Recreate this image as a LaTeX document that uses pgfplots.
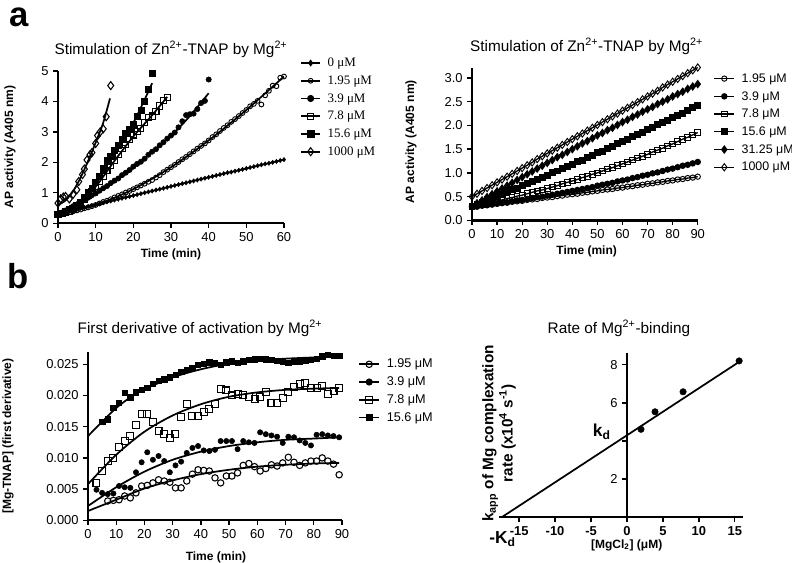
\documentclass[border=0pt]{standalone}
\usepackage{pgfplots}
\pgfplotsset{compat=1.18}
\usepackage{fontspec}
\setmainfont{Liberation Sans}
\newfontfamily\seriffont{Liberation Serif}

\pgfplotsset{
 gp/.style={
  scale only axis, clip=false,
  axis x line*=bottom, axis y line*=left,
  axis line style={line width=1.3pt},
  tick align=outside, major tick length=3.5pt,
  every tick/.style={line width=1pt, black},
  /pgf/number format/assume math mode=true,
  tick label style={font=\fontsize{9.7}{10}\selectfont},
  every axis title/.style={font=\fontsize{11.5}{12}\selectfont, anchor=center},
  every axis x label/.style={font=\bfseries\fontsize{9}{10}\selectfont, anchor=center},
  every axis y label/.style={font=\bfseries\fontsize{9}{10}\selectfont, anchor=center, rotate=90},
  legend style={draw=none, fill=none, inner sep=0pt, row sep=2.8pt, anchor=north west,
    font=\fontsize{9.5}{10}\selectfont,
    nodes={inner sep=0.5pt, text height=7.5pt, text depth=2pt},
    /tikz/every odd column/.style={column sep=4.5pt}},
  legend cell align=left,
  legend image code/.code={\draw[mark repeat=2,mark phase=2,##1] plot coordinates {(0cm,0cm)(0.25cm,0cm)(0.5cm,0cm)};},
 },
 fitl/.style={no marks, smooth, line width=1.3pt, black, forget plot},
}

\begin{document}
\begin{tikzpicture}
\path[use as bounding box] (0,0) rectangle (594pt,422.25pt);
\node[inner sep=0pt, font=\bfseries\fontsize{26}{26}\selectfont] at (14.3pt,409.5pt) {a};
\node[inner sep=0pt, font=\bfseries\fontsize{26}{26}\selectfont] at (13.9pt,214.9pt) {b};

%================ Panel 1 =================
\begin{axis}[gp, at={(43.5pt,254.8pt)}, anchor=south west,
  width=169.5pt, height=114.2pt,
  xmin=0, xmax=60, ymin=0, ymax=5,
  xtick={0,10,...,60}, ytick={0,1,...,5},
  title={Stimulation of Zn\textsuperscript{2+}-TNAP by Mg\textsuperscript{2+}},
  title style={at={(axis description cs:0.5,1.144)}},
  xlabel={Time (min)}, xlabel style={at={(axis description cs:0.5,-0.2016)}},
  ylabel={AP activity (A405 nm)}, ylabel style={at={(axis description cs:-0.212,0.5)}},
  legend style={at={(axis description cs:1.071,1.100)}, font=\seriffont\fontsize{9.7}{10}\selectfont},
]
% 0 uM
\addplot[only marks, mark=diamond*, mark size=1.6pt, black, forget plot] coordinates {
(0,0.30)(1,0.33)(2,0.36)(3,0.39)(4,0.42)(5,0.45)(6,0.49)(7,0.52)(8,0.55)(9,0.58)(10,0.61)
(11,0.64)(12,0.67)(13,0.70)(14,0.73)(15,0.76)(16,0.79)(17,0.82)(18,0.85)(19,0.88)(20,0.91)
(21,0.94)(22,0.97)(23,1.00)(24,1.03)(25,1.06)(26,1.09)(27,1.12)(28,1.15)(29,1.18)(30,1.21)
(31,1.24)(32,1.27)(33,1.30)(34,1.33)(35,1.36)(36,1.39)(37,1.42)(38,1.45)(39,1.48)(40,1.51)
(41,1.54)(42,1.57)(43,1.60)(44,1.63)(45,1.66)(46,1.68)(47,1.71)(48,1.74)(49,1.77)(50,1.80)
(51,1.83)(52,1.86)(53,1.89)(54,1.92)(55,1.95)(56,1.97)(57,2.00)(58,2.03)(59,2.06)(60,2.09)};
\addplot[fitl] coordinates {(0,0.30)(10,0.61)(20,0.91)(30,1.21)(40,1.51)(50,1.80)(60,2.09)};
% 1.95 uM
\addplot[only marks, mark=o, mark size=1.8pt, line width=0.7pt, black, forget plot] coordinates {
(0,0.30)(1,0.32)(2,0.34)(3,0.36)(4,0.39)(5,0.42)(6,0.45)(7,0.49)(8,0.52)(9,0.56)(10,0.60)
(11,0.65)(12,0.70)(13,0.74)(14,0.79)(15,0.85)(16,0.90)(17,0.95)(18,1.01)(19,1.06)(20,1.12)
(21,1.18)(22,1.24)(23,1.30)(24,1.36)(25,1.42)(26,1.50)(27,1.58)(28,1.68)(29,1.76)(30,1.84)
(31,1.92)(32,2.01)(33,2.10)(34,2.18)(35,2.27)(36,2.36)(37,2.45)(38,2.54)(39,2.62)(40,2.72)
(41,2.83)(42,2.92)(43,3.03)(44,3.13)(45,3.22)(46,3.33)(47,3.42)(48,3.52)(49,3.62)(50,3.72)
(51,3.84)(52,3.92)(53,4.02)(54,3.90)(55,4.20)(56,4.35)(57,4.52)(58,4.50)(59,4.78)(60,4.82)};
\addplot[fitl] coordinates {(0,0.30)(10,0.60)(20,1.12)(30,1.84)(40,2.72)(50,3.72)(60,4.82)};
% 3.9 uM
\addplot[only marks, mark=*, mark size=2.0pt, black, forget plot] coordinates {
(0,0.30)(1,0.35)(2,0.42)(3,0.48)(4,0.56)(5,0.62)(6,0.70)(7,0.76)(8,0.84)(9,0.92)(10,0.98)
(11,1.07)(12,1.15)(13,1.22)(14,1.32)(15,1.40)(16,1.47)(17,1.58)(18,1.66)(19,1.75)(20,1.86)
(21,1.95)(22,2.02)(23,2.12)(24,2.25)(25,2.35)(26,2.43)(27,2.56)(28,2.66)(29,2.78)(30,2.88)
(31,2.98)(32,3.15)(33,3.35)(34,3.55)(35,3.58)(36,3.60)(37,3.75)(38,3.95)(39,4.02)(40,4.72)};
\addplot[fitl] coordinates {(0,0.30)(10,0.95)(20,1.82)(30,2.88)(35,3.52)(40,4.27)};
% 7.8 uM
\addplot[only marks, mark=square, mark size=2.3pt, line width=0.8pt, black, forget plot] coordinates {
(0,0.30)(1,0.33)(2,0.36)(3,0.40)(4,0.47)(5,0.55)(6,0.66)(7,0.78)(8,0.90)(9,1.04)(10,1.20)
(11,1.37)(12,1.55)(13,1.72)(14,1.90)(15,2.05)(16,2.25)(17,2.46)(18,2.58)(19,2.74)(20,2.90)
(21,3.02)(22,3.12)(23,3.30)(24,3.47)(25,3.52)(26,3.68)(27,3.85)(28,4.02)(29,4.12)};
\addplot[fitl] coordinates {(0,0.30)(5,0.55)(10,1.20)(15,2.05)(20,2.85)(25,3.55)(29,4.15)};
% 15.6 uM
\addplot[only marks, mark=square*, mark size=2.3pt, black, forget plot] coordinates {
(0,0.30)(1,0.33)(2,0.38)(3,0.45)(4,0.50)(5,0.60)(6,0.70)(7,0.85)(8,1.00)(9,1.15)(10,1.35)
(11,1.55)(12,1.80)(13,2.05)(14,2.20)(15,2.40)(16,2.55)(17,2.75)(18,2.95)(19,3.10)(20,3.25)
(21,3.50)(22,3.70)(23,4.00)(24,4.40)(25,4.92)};
\addplot[fitl] coordinates {(0,0.30)(5,0.60)(10,1.35)(15,2.35)(20,3.30)(25,4.60)};
% 1000 uM
\addplot[only marks, mark=diamond, mark size=3.0pt, line width=0.8pt, black, forget plot] coordinates {
(0,0.66)(0.7,0.80)(1.4,0.86)(2,0.88)(3,0.80)(4,0.95)(5,1.10)(5.5,1.37)(6.5,1.60)(7,1.78)
(7.7,2.08)(8.5,2.25)(9,2.32)(10,2.62)(10.5,2.88)(11.2,3.00)(12,3.10)(12.8,3.50)(14,4.52)};
\addplot[fitl] coordinates {(0,0.60)(2,0.75)(4,1.05)(6,1.50)(8,2.05)(10,2.65)(12,3.30)(13.8,4.10)};
\addlegendimage{black, line width=1.3pt, mark=diamond*, mark size=1.6pt}
\addlegendentry{0 μM}
\addlegendimage{black, line width=1.3pt, mark=o, mark size=1.8pt, mark options={line width=0.7pt}}
\addlegendentry{1.95 μM}
\addlegendimage{black, line width=1.3pt, mark=*, mark size=2.0pt}
\addlegendentry{3.9 μM}
\addlegendimage{black, line width=1.3pt, mark=square, mark size=2.3pt, mark options={line width=0.8pt}}
\addlegendentry{7.8 μM}
\addlegendimage{black, line width=1.3pt, mark=square*, mark size=2.3pt}
\addlegendentry{15.6 μM}
\addlegendimage{black, line width=1.3pt, mark=diamond, mark size=3.0pt, mark options={line width=0.8pt}}
\addlegendentry{1000 μM}
\end{axis}

%================ Panel 2 =================
\begin{axis}[gp, at={(354pt,257.0pt)}, anchor=south west,
  width=169.3pt, height=113.9pt,
  xmin=0, xmax=90, ymin=0, ymax=3.2,
  xtick={0,10,...,90}, ytick={0,0.5,1.0,1.5,2.0,2.5,3.0},
  yticklabel style={/pgf/number format/.cd, fixed, fixed zerofill, precision=1},
  title={Stimulation of Zn\textsuperscript{2+}-TNAP by Mg\textsuperscript{2+}},
  title style={at={(axis description cs:0.508,1.148)}},
  xlabel={Time (min)}, xlabel style={at={(axis description cs:0.508,-0.2075)}},
  ylabel={AP activity (A405 nm)}, ylabel style={at={(axis description cs:-0.270,0.518)}},
  legend style={at={(axis description cs:1.069,0.981)}, font=\fontsize{9.3}{10}\selectfont},
  legend image code/.code={\draw[mark repeat=2,mark phase=2,#1] plot coordinates {(0cm,0cm)(0.265cm,0cm)(0.53cm,0cm)};},
]
\addplot[line width=1.8pt, black, forget plot] coordinates {(0,0)(90,0)};
\addplot[black, line width=1pt, mark=o, mark size=2.0pt, mark options={line width=0.7pt}] coordinates {
(0,0.28)(2,0.29)(4,0.31)(6,0.32)(8,0.33)(10,0.35)(12,0.36)(14,0.37)(16,0.39)(18,0.40)(20,0.41)
(22,0.43)(24,0.44)(26,0.45)(28,0.47)(30,0.48)(32,0.49)(34,0.51)(36,0.52)(38,0.54)(40,0.55)
(42,0.56)(44,0.58)(46,0.59)(48,0.61)(50,0.62)(52,0.64)(54,0.65)(56,0.66)(58,0.68)(60,0.69)
(62,0.71)(64,0.72)(66,0.74)(68,0.75)(70,0.77)(72,0.78)(74,0.80)(76,0.81)(78,0.83)(80,0.84)
(82,0.86)(84,0.87)(86,0.89)(88,0.90)(90,0.92)};
\addlegendentry{1.95 μM}
\addplot[black, line width=1pt, mark=*, mark size=1.9pt] coordinates {
(0,0.28)(2,0.29)(4,0.31)(6,0.32)(8,0.34)(10,0.35)(12,0.37)(14,0.38)(16,0.40)(18,0.42)(20,0.43)
(22,0.45)(24,0.47)(26,0.49)(28,0.50)(30,0.52)(32,0.54)(34,0.56)(36,0.58)(38,0.60)(40,0.62)
(42,0.64)(44,0.66)(46,0.68)(48,0.70)(50,0.73)(52,0.75)(54,0.77)(56,0.79)(58,0.82)(60,0.84)
(62,0.86)(64,0.89)(66,0.91)(68,0.94)(70,0.96)(72,0.99)(74,1.01)(76,1.04)(78,1.07)(80,1.09)
(82,1.12)(84,1.15)(86,1.17)(88,1.20)(90,1.23)};
\addlegendentry{3.9 μM}
\addplot[black, line width=1pt, mark=square, mark size=2.1pt, mark options={line width=0.7pt}] coordinates {
(0,0.30)(2,0.32)(4,0.34)(6,0.36)(8,0.39)(10,0.41)(12,0.43)(14,0.46)(16,0.48)(18,0.51)(20,0.53)
(22,0.56)(24,0.59)(26,0.62)(28,0.64)(30,0.67)(32,0.70)(34,0.73)(36,0.77)(38,0.80)(40,0.83)
(42,0.86)(44,0.90)(46,0.93)(48,0.97)(50,1.00)(52,1.04)(54,1.08)(56,1.11)(58,1.15)(60,1.19)
(62,1.23)(64,1.27)(66,1.31)(68,1.35)(70,1.39)(72,1.44)(74,1.48)(76,1.52)(78,1.57)(80,1.61)
(82,1.66)(84,1.71)(86,1.75)(88,1.80)(90,1.85)};
\addlegendentry{7.8 μM}
\addplot[black, line width=1pt, mark=square*, mark size=2.1pt] coordinates {
(0,0.30)(2,0.34)(4,0.38)(6,0.43)(8,0.47)(10,0.51)(12,0.55)(14,0.60)(16,0.64)(18,0.68)(20,0.73)
(22,0.77)(24,0.82)(26,0.86)(28,0.91)(30,0.95)(32,1.00)(34,1.04)(36,1.09)(38,1.13)(40,1.18)
(42,1.23)(44,1.27)(46,1.32)(48,1.37)(50,1.42)(52,1.46)(54,1.51)(56,1.56)(58,1.61)(60,1.66)
(62,1.71)(64,1.76)(66,1.81)(68,1.86)(70,1.91)(72,1.96)(74,2.01)(76,2.06)(78,2.11)(80,2.16)
(82,2.21)(84,2.26)(86,2.31)(88,2.37)(90,2.42)};
\addlegendentry{15.6 μM}
\addplot[black, line width=1pt, mark=diamond*, mark size=2.5pt] coordinates {
(0,0.30)(2,0.36)(4,0.42)(6,0.49)(8,0.55)(10,0.61)(12,0.67)(14,0.73)(16,0.79)(18,0.85)(20,0.91)
(22,0.97)(24,1.03)(26,1.09)(28,1.15)(30,1.21)(32,1.27)(34,1.33)(36,1.38)(38,1.44)(40,1.50)
(42,1.56)(44,1.62)(46,1.67)(48,1.73)(50,1.79)(52,1.84)(54,1.90)(56,1.95)(58,2.01)(60,2.07)
(62,2.12)(64,2.18)(66,2.23)(68,2.29)(70,2.34)(72,2.39)(74,2.45)(76,2.50)(78,2.55)(80,2.61)
(82,2.66)(84,2.71)(86,2.77)(88,2.82)(90,2.87)};
\addlegendentry{31.25 μM}
\addplot[black, line width=1pt, mark=diamond, mark size=2.7pt, mark options={line width=0.7pt}] coordinates {
(0,0.50)(2,0.56)(4,0.62)(6,0.68)(8,0.74)(10,0.80)(12,0.86)(14,0.92)(16,0.98)(18,1.04)(20,1.10)
(22,1.16)(24,1.22)(26,1.29)(28,1.35)(30,1.41)(32,1.47)(34,1.53)(36,1.59)(38,1.65)(40,1.71)
(42,1.77)(44,1.83)(46,1.89)(48,1.95)(50,2.01)(52,2.07)(54,2.13)(56,2.19)(58,2.25)(60,2.31)
(62,2.37)(64,2.43)(66,2.49)(68,2.55)(70,2.61)(72,2.67)(74,2.73)(76,2.80)(78,2.86)(80,2.92)
(82,2.98)(84,3.04)(86,3.10)(88,3.16)(90,3.22)};
\addlegendentry{1000 μM}
\end{axis}

%================ Panel 3 =================
\begin{axis}[gp, at={(66pt,32.0pt)}, anchor=south west,
  width=190.5pt, height=126.4pt,
  xmin=0, xmax=90, ymin=0, ymax=0.027,
  xtick={0,10,...,90}, ytick={0,0.005,0.010,0.015,0.020,0.025},
  yticklabel style={/pgf/number format/.cd, fixed, fixed zerofill, precision=3},
  scaled y ticks=false,
  title={First derivative of activation by Mg\textsuperscript{2+}},
  title style={at={(axis description cs:0.441,1.138)}},
  xlabel={Time (min)}, xlabel style={at={(axis description cs:0.504,-0.218)}},
  ylabel={[Mg-TNAP] (first derivative)}, ylabel style={at={(axis description cs:-0.315,0.5)}},
  legend style={at={(axis description cs:1.063,0.969)}},
  legend image code/.code={\draw[mark repeat=2,mark phase=2,#1] plot coordinates {(0cm,0cm)(0.265cm,0cm)(0.53cm,0cm)};},
]
% 1.95
\addplot[only marks, mark=o, mark size=2.4pt, line width=0.8pt, black, forget plot] coordinates {
(7,0.0031)(9,0.0032)(11,0.0033)(13,0.0039)(15,0.0036)(17,0.0044)(19,0.0055)(21,0.0056)(23,0.0060)
(25,0.0065)(27,0.0063)(29,0.0061)(31,0.0052)(33,0.0052)(35,0.0063)(37,0.0074)(39,0.0081)(41,0.0080)
(43,0.0079)(45,0.0068)(47,0.0060)(49,0.0071)(51,0.0071)(53,0.0076)(55,0.0088)(57,0.0091)(59,0.0086)
(61,0.0079)(63,0.0083)(65,0.0089)(67,0.0087)(69,0.0092)(71,0.0101)(73,0.0093)(75,0.0088)(77,0.0092)
(79,0.0095)(81,0.0095)(83,0.0100)(85,0.0095)(87,0.0090)(89,0.0073)};
\addplot[fitl] coordinates {(0,0.0015)(10,0.0033)(20,0.0051)(30,0.0064)(40,0.0074)(50,0.0081)(60,0.0086)(70,0.0089)(80,0.0091)(89,0.0092)};
% 3.9
\addplot[only marks, mark=*, mark size=2.0pt, black, forget plot] coordinates {
(3,0.0049)(5,0.0044)(7,0.0042)(9,0.0043)(11,0.0055)(13,0.0053)(15,0.0052)(17,0.0077)(19,0.0093)
(21,0.0109)(23,0.0097)(25,0.0103)(27,0.0095)(29,0.0077)(31,0.0088)(33,0.0094)(35,0.0108)(37,0.0116)
(39,0.0119)(41,0.0112)(43,0.0111)(45,0.0113)(47,0.0127)(49,0.0127)(51,0.0127)(53,0.0114)(55,0.0127)
(57,0.0125)(59,0.0124)(61,0.0141)(63,0.0138)(65,0.0136)(67,0.0134)(69,0.0124)(71,0.0134)(73,0.0133)
(75,0.0128)(77,0.0124)(79,0.0120)(81,0.0137)(83,0.0138)(85,0.0136)(87,0.0135)(89,0.0133)};
\addplot[fitl] coordinates {(0,0.0023)(10,0.0053)(20,0.0078)(30,0.0097)(40,0.0110)(50,0.0119)(60,0.0125)(70,0.0129)(80,0.0131)(89,0.0133)};
% 7.8
\addplot[only marks, mark=square, mark size=2.6pt, line width=0.8pt, black, forget plot] coordinates {
(3,0.0060)(5,0.0079)(7,0.0095)(9,0.0100)(11,0.0117)(13,0.0127)(15,0.0135)(17,0.0153)(19,0.0170)
(21,0.0170)(23,0.0157)(25,0.0143)(27,0.0139)(29,0.0132)(31,0.0139)(33,0.0166)(35,0.0187)(37,0.0167)
(39,0.0167)(41,0.0173)(43,0.0178)(45,0.0186)(47,0.0211)(49,0.0208)(51,0.0200)(53,0.0202)(55,0.0201)
(57,0.0197)(59,0.0195)(61,0.0197)(63,0.0205)(65,0.0188)(67,0.0188)(69,0.0196)(71,0.0205)(73,0.0213)
(75,0.0219)(77,0.0220)(79,0.0212)(81,0.0212)(83,0.0215)(85,0.0202)(87,0.0207)(89,0.0212)};
\addplot[fitl] coordinates {(0,0.0058)(10,0.0105)(20,0.0142)(30,0.0168)(40,0.0186)(50,0.0198)(60,0.0205)(70,0.0209)(80,0.0211)(89,0.0212)};
% 15.6
\addplot[only marks, mark=square*, mark size=2.0pt, black, forget plot] coordinates {
(5,0.0158)(7,0.0162)(9,0.0180)(11,0.0188)(13,0.0204)(15,0.0197)(17,0.0205)(19,0.0209)(21,0.0212)
(23,0.0219)(25,0.0224)(27,0.0226)(29,0.0229)(31,0.0233)(33,0.0238)(35,0.0241)(37,0.0244)(39,0.0249)
(41,0.0251)(43,0.0253)(45,0.0252)(47,0.0249)(49,0.0253)(51,0.0255)(53,0.0252)(55,0.0255)(57,0.0257)
(59,0.0258)(61,0.0259)(63,0.0258)(65,0.0257)(67,0.0256)(69,0.0254)(71,0.0252)(73,0.0254)(75,0.0255)
(77,0.0256)(79,0.0257)(81,0.0259)(83,0.0263)(85,0.0265)(87,0.0264)(89,0.0264)};
\addplot[fitl] coordinates {(0,0.0135)(5,0.0158)(10,0.0180)(15,0.0197)(20,0.0210)(30,0.0229)(40,0.0242)(50,0.0251)(60,0.0256)(70,0.0259)(80,0.0261)(89,0.0263)};
\addlegendimage{black, line width=1.3pt, mark=o, mark size=2.4pt, mark options={line width=0.8pt}}
\addlegendentry{1.95 μM}
\addlegendimage{black, line width=1.3pt, mark=*, mark size=2.0pt}
\addlegendentry{3.9 μM}
\addlegendimage{black, line width=1.3pt, mark=square, mark size=2.6pt, mark options={line width=0.8pt}}
\addlegendentry{7.8 μM}
\addlegendimage{black, line width=1.3pt, mark=square*, mark size=2.0pt}
\addlegendentry{15.6 μM}
\end{axis}

%================ Panel 4 =================
\begin{axis}[gp, at={(374.25pt,34.4pt)}, anchor=south west,
  width=182.8pt, height=123.3pt,
  axis y line*=center, hide obscured x ticks=false,
  xmin=-17.8, xmax=16.1, ymin=0, ymax=8.63,
  xtick={-15,-10,-5,0,5,10,15}, ytick={2,4,6,8}, yticklabels={2,{},6,8},
  xticklabel style={font=\bfseries\fontsize{9.7}{10}\selectfont},
  title={Rate of Mg\textsuperscript{2+}-binding},
  title style={at={(axis description cs:0.492,1.150)}},
  xlabel={[MgCl\textsubscript{2}] (μM)}, xlabel style={at={(axis description cs:0.524,-0.170)}},
]
\addplot[no marks, line width=1.3pt, black] coordinates {(-17.4,0)(15.6,8.15)};
\addplot[only marks, mark=*, mark size=2.4pt, black] coordinates {(1.95,4.61)(3.9,5.53)(7.8,6.58)(15.6,8.2)};
\node[rotate=90, align=center, font=\bfseries\fontsize{11.5}{13}\selectfont] at (axis description cs:0,0.51)
  {k\textsubscript{app} of Mg complexation\\rate (x10\textsuperscript{4} s\textsuperscript{-1})};
\node[font=\bfseries\fontsize{13}{13}\selectfont] at (axis cs:-3.5,4.48) {k\textsubscript{d}};
\node[font=\bfseries\fontsize{13}{13}\selectfont] at (axis cs:-17.3,-1.15) {-K\textsubscript{d}};
\end{axis}
\end{tikzpicture}
\end{document}
